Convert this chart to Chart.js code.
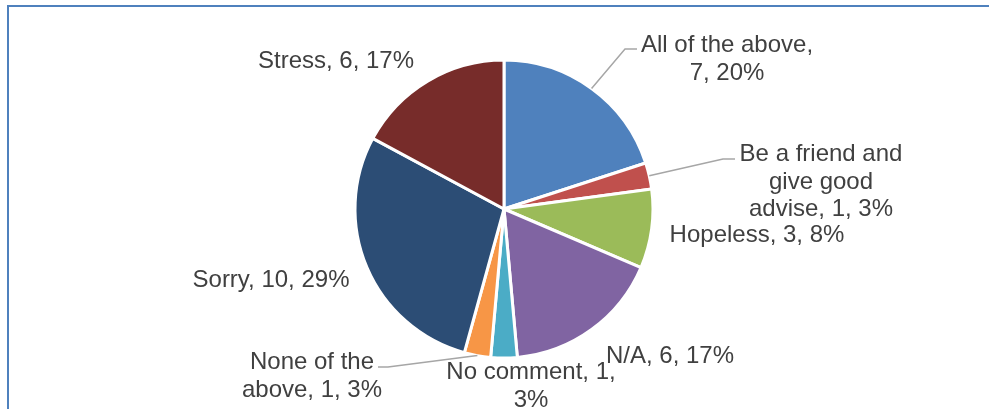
<!DOCTYPE html>
<html>
<head>
<meta charset="utf-8">
<script src="https://cdn.jsdelivr.net/npm/chart.js@4"></script>
<style>
  html, body { margin: 0; padding: 0; background: #fff; overflow: hidden; }
  #wrap { position: relative; width: 989px; height: 409px; overflow: hidden; }
  #frame { position: absolute; left: 7px; top: 5px; width: 1100px; height: 500px;
           border: 2px solid #4F81BD; box-sizing: border-box; }
  canvas { position: absolute; left: 0; top: 0; }
</style>
</head>
<body>
<div id="wrap">
  <div id="frame"></div>
  <canvas id="chart" width="989" height="409"></canvas>
</div>
<script>
// Survey answers, counts and the rounded shares printed on each label
const categories = [
  'All of the above',
  'Be a friend and give good advise',
  'Hopeless',
  'N/A',
  'No comment',
  'None of the above',
  'Sorry',
  'Stress'
];
const counts = [7, 1, 3, 6, 1, 1, 10, 6];
const shares = [20, 3, 8, 17, 3, 3, 29, 17];
const sliceColors = ['#4F81BD', '#C0504D', '#9BBB59', '#8064A2', '#4BACC6', '#F79646', '#2C4D75', '#772C2A'];

// Label placement around the pie: centre of text (dx) and first baseline (dy),
// measured from the pie centre; wrap = max line width; leader = elbow points.
const labelLayout = [
  { dx: 223, dy: -157, wrap: 178, leader: [[121, -160], [133, -160]] },
  { dx: 317, dy: -48,  wrap: 168, leader: [[219, -50], [231, -50]] },
  { dx: 253, dy: 33,   wrap: 400 },
  { dx: 166, dy: 154,  wrap: 400 },
  { dx: 27,  dy: 170,  wrap: 175 },
  { dx: -192, dy: 160, wrap: 148, leader: [[-116, 158], [-126, 158]] },
  { dx: -233, dy: 78,  wrap: 400 },
  { dx: -168, dy: -141, wrap: 400 }
];

function wrapText(ctx, text, maxWidth) {
  const words = text.split(' ');
  const lines = [];
  let line = '';
  for (const w of words) {
    const test = line ? line + ' ' + w : w;
    if (line && ctx.measureText(test).width > maxWidth) {
      lines.push(line);
      line = w;
    } else {
      line = test;
    }
  }
  if (line) lines.push(line);
  return lines;
}

const sliceLabels = {
  id: 'sliceLabels',
  afterDraw(chart) {
    const ctx = chart.ctx;
    const meta = chart.getDatasetMeta(0);
    ctx.save();
    meta.data.forEach((arc, i) => {
      const lay = labelLayout[i];
      const cx = arc.x, cy = arc.y;
      if (lay.leader) {
        const mid = (arc.startAngle + arc.endAngle) / 2;
        const r = arc.outerRadius;
        ctx.beginPath();
        ctx.moveTo(cx + Math.cos(mid) * r, cy + Math.sin(mid) * r);
        lay.leader.forEach(p => ctx.lineTo(cx + p[0], cy + p[1]));
        ctx.strokeStyle = '#A6A6A6';
        ctx.lineWidth = 1.5;
        ctx.stroke();
      }
      ctx.font = '24px "Liberation Sans", Arial, sans-serif';
      ctx.fillStyle = '#404040';
      ctx.textAlign = 'center';
      ctx.textBaseline = 'alphabetic';
      const text = `${categories[i]}, ${counts[i]}, ${shares[i]}%`;
      const lines = wrapText(ctx, text, lay.wrap);
      lines.forEach((ln, k) => {
        ctx.fillText(ln, cx + lay.dx, cy + lay.dy + k * 27.5);
      });
    });
    ctx.restore();
  }
};

new Chart(document.getElementById('chart'), {
  type: 'pie',
  data: {
    labels: categories,
    datasets: [{
      data: counts,
      backgroundColor: sliceColors,
      borderColor: '#FFFFFF',
      borderWidth: 3,
      hoverOffset: 0,
      radius: 149
    }]
  },
  options: {
    responsive: false,
    devicePixelRatio: 1,
    animation: false,
    events: [],
    layout: { padding: { left: 355, right: 336, top: 60, bottom: 51 } },
    plugins: {
      legend: { display: false },
      tooltip: { enabled: false },
      title: { display: false }
    }
  },
  plugins: [sliceLabels]
});
</script>
</body>
</html>
